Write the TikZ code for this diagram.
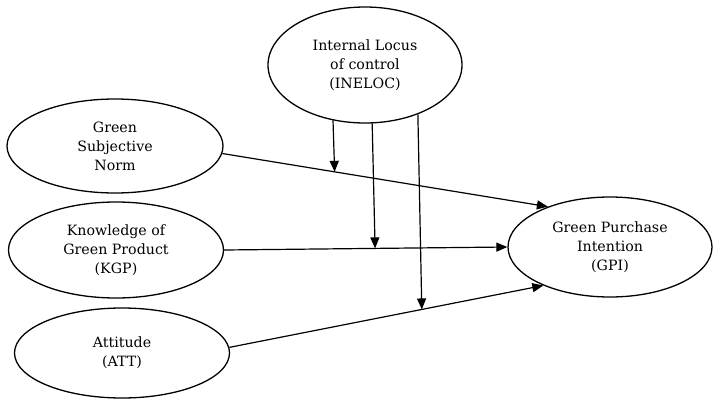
\documentclass[tikz,border=0pt]{standalone}
\usepackage{fontspec}
\setmainfont{DejaVu Serif}
\usetikzlibrary{shapes.geometric,arrows.meta,calc}
\begin{document}
\begin{tikzpicture}[x=1pt,y=-1pt,
  var/.style={ellipse,draw,line width=1.3pt,inner sep=0pt,align=center,font=\fontsize{14.2}{19}\selectfont},
  link/.style={line width=1.2pt,-{Triangle[length=11pt,width=9pt]}}]
\useasboundingbox (0,0) rectangle (715,399);
\node[var,minimum width=194pt,minimum height=116pt] (ineloc) at (365,65) {Internal Locus\\of control\\(INELOC)};
\node[var,minimum width=216pt,minimum height=94pt] (gsn) at (115,146) {Green\\Subjective\\Norm};
\node[var,minimum width=215pt,minimum height=96pt] (kgp) at (116,250) {Knowledge of\\Green Product\\(KGP)};
\node[var,minimum width=215pt,minimum height=90pt] (att) at (122,353) {Attitude\\(ATT)};
\node[var,minimum width=204pt,minimum height=100pt] (gpi) at (610,247) {Green Purchase\\Intention\\(GPI)};
\draw[link] (gsn.-4) -- (gpi.147);
\draw[link] (kgp.east) -- (gpi.west);
\draw[link] (att.3) -- (gpi.210);
\coordinate (m1) at ($(gsn.-4)!0.345!(gpi.147)$);
\coordinate (m2) at ($(kgp.east)!0.533!(gpi.west)$);
\coordinate (m3) at ($(att.3)!0.613!(gpi.210)$);
\draw[link] (ineloc.240) -- (m1);
\draw[link] (ineloc.277) -- (m2);
\draw[link] (ineloc.317) -- (m3);
\end{tikzpicture}
\end{document}
